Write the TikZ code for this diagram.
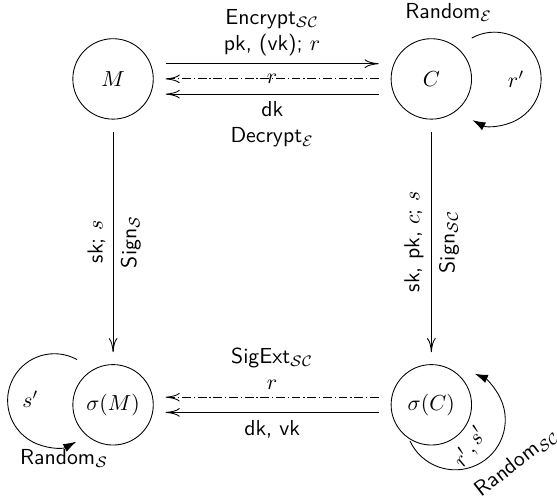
\documentclass[tikz,border=0pt]{standalone}
\usepackage{amsmath}
\usetikzlibrary{positioning, calc, arrows.meta}

\tikzset{
	state/.style={circle, draw, minimum size=37pt, inner sep=0pt},
	lbl/.style={font=\sffamily, align=center},
	msg/.style={-{Computer Modern Rightarrow[length=6.5pt,width=4pt]}, shorten <=5.5pt, shorten >=5.5pt},
	dashdot/.style={dash pattern=on 4pt off 1.3pt on 0.6pt off 1.3pt},
	self/.style={-{Latex[length=6pt,width=4pt]}}
}

\begin{document}
\begin{tikzpicture}
	\useasboundingbox (-52pt,36.3pt) rectangle (204.2pt,-193.7pt);

	\node[state] (M) {$M$};
	\node[state, right=109pt of M] (C) {$C$};
	\node[state, below=112.5pt of M] (sM) {$\sigma(M)$};
	\node[state, below=112.5pt of C] (sC) {$\sigma(C)$};

	\draw[msg] ([yshift=7pt]M.east) -- node[above, lbl] {Encrypt$_{\mathcal{SC}}$\\pk, (vk); $r$} ([yshift=7pt]C.west);
	\draw[msg, dashdot] (C.west) -- node {$r$} (M.east);
	\draw[msg] ([yshift=-7pt]C.west) -- node[below, lbl] {dk\\Decrypt$_{\mathcal{E}}$} ([yshift=-7pt]M.east);

	\draw[msg] (M) -- node[rotate=90, anchor=south, lbl] {sk; $s$} node[rotate=90, anchor=north, lbl] {Sign$_{\mathcal{S}}$} (sM);
	\draw[msg] (C) -- node[rotate=90, anchor=south, lbl] {sk, pk, $c$; $s$} node[rotate=90, anchor=north, lbl] {Sign$_{\mathcal{SC}}$} (sC);

	\draw[msg, dashdot] ([yshift=3.5pt]sC.west) -- node[above, lbl] {SigExt$_{\mathcal{SC}}$\\$r$} ([yshift=3.5pt]sM.east);
	\draw[msg] ([yshift=-3.5pt]sC.west) -- node[below, lbl] {dk, vk} ([yshift=-3.5pt]sM.east);

	\coordinate (cl) at ([xshift=29pt]C.center);
	\coordinate (ml) at ([shift={(-27pt,2pt)}]sM.center);
	\coordinate (scl) at ([shift={(11pt,-6.9pt)}]sC.center);

	\draw[self] ($(cl)+(119:21.5pt)$) arc[start angle=119, end angle=-118, radius=21.5pt];
	\draw[self] ($(ml)+(61:21.5pt)$) arc[start angle=61, end angle=298, radius=21.5pt];
	\draw[self] ($(scl)+(205:23pt)$) arc[start angle=205, end angle=427, radius=23pt];

	\node (rp) at ([xshift=39pt]C.center) {$r'$};
	\node[lbl] (randE) at ([shift={(8pt,30.4pt)}]C.center) {Random$_{\mathcal{E}}$};
	\node (sp) at ([shift={(-38pt,2.7pt)}]sM.center) {$s'$};
	\node[lbl] (randS) at ([shift={(-22.5pt,-24.8pt)}]sM.center) {Random$_{\mathcal{S}}$};
	\node[rotate=55, inner sep=1pt] (rsp) at ([shift={(18pt,-19.5pt)}]sC.center) {$r', s'$};
	\node[lbl, rotate=38, inner sep=1pt] (randSC) at ([shift={(39.3pt,-26.6pt)}]sC.center) {Random$_{\mathcal{SC}}$};
\end{tikzpicture}
\end{document}
